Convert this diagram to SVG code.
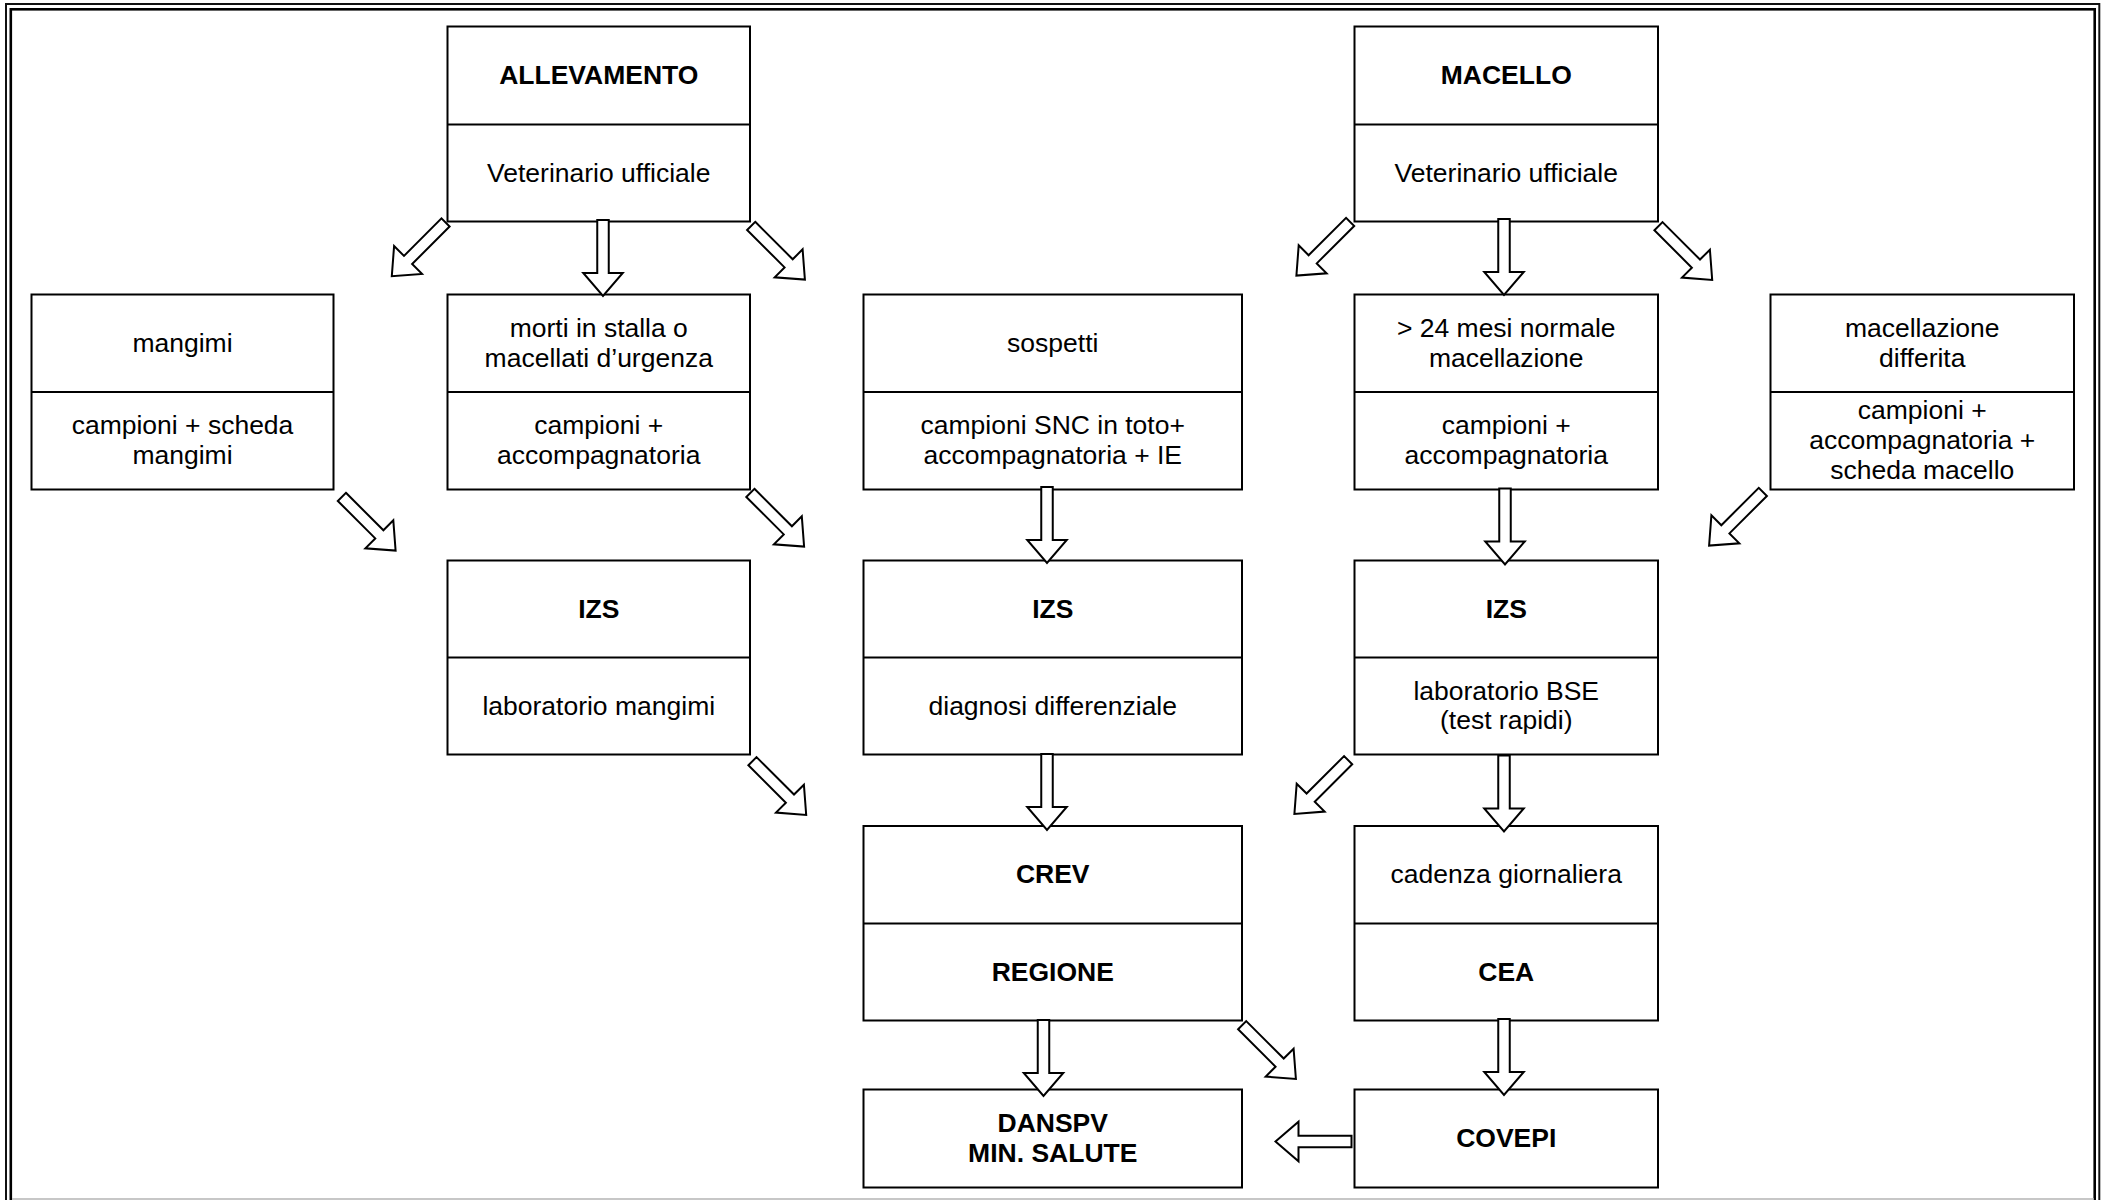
<svg xmlns="http://www.w3.org/2000/svg" xmlns:xlink="http://www.w3.org/1999/xlink" width="2105" height="1200" viewBox="0 0 2105 1200">
<style>
  .box { fill: #ffffff; stroke: #000000; stroke-width: 2; }
  .div { stroke: #000000; stroke-width: 2; }
  text { font-family: "Liberation Sans", Arial, sans-serif; font-size: 26.5px; fill: #000000; text-anchor: middle; }
  .b { font-weight: bold; }
  .arrow { fill: #ffffff; stroke: #000000; stroke-width: 2; stroke-linejoin: miter; }
</style>
<defs>
  <path id="arr" d="M-76,-5.75 H-23 V-19.75 L0,0 L-23,19.75 V5.75 H-76 Z"/>
</defs>
<rect x="0" y="0" width="2105" height="1200" fill="#ffffff"/>
<!-- page border -->
<g id="border" fill="none">
  <rect x="6" y="4" width="2093.3" height="1210" stroke="#111" stroke-width="2"/>
  <rect x="10.8" y="9.3" width="2083.9" height="1200" stroke="#000" stroke-width="2.6"/>
  <line x1="12" y1="1199" x2="2094" y2="1199" stroke="#b4b4b4" stroke-width="1.5"/>
</g>

<g id="allevamento">
  <rect class="box" x="447.5" y="26.5" width="302.5" height="195"/>
  <line class="div" x1="447.5" y1="124.5" x2="750" y2="124.5"/>
  <text class="b" x="598.75" y="84">ALLEVAMENTO</text>
  <text x="598.75" y="181.5">Veterinario ufficiale</text>
</g>
<g id="macello">
  <rect class="box" x="1354.5" y="26.5" width="303.5" height="195"/>
  <line class="div" x1="1354.5" y1="124.5" x2="1658" y2="124.5"/>
  <text class="b" x="1506.25" y="84">MACELLO</text>
  <text x="1506.25" y="181.5">Veterinario ufficiale</text>
</g>

<g id="mangimi">
  <rect class="box" x="31.5" y="294.5" width="302" height="195"/>
  <line class="div" x1="31.5" y1="392" x2="333.5" y2="392"/>
  <text x="182.5" y="351.5">mangimi</text>
  <text x="182.5" y="434.4">campioni + scheda</text>
  <text x="182.5" y="464.2">mangimi</text>
</g>
<g id="morti">
  <rect class="box" x="447.5" y="294.5" width="302.5" height="195"/>
  <line class="div" x1="447.5" y1="392" x2="750" y2="392"/>
  <text x="598.75" y="336.9">morti in stalla o</text>
  <text x="598.75" y="366.7">macellati d’urgenza</text>
  <text x="598.75" y="434.4">campioni +</text>
  <text x="598.75" y="464.2">accompagnatoria</text>
</g>
<g id="sospetti">
  <rect class="box" x="863.5" y="294.5" width="378.5" height="195"/>
  <line class="div" x1="863.5" y1="392" x2="1242" y2="392"/>
  <text x="1052.75" y="351.5">sospetti</text>
  <text x="1052.75" y="434.4">campioni SNC in toto+</text>
  <text x="1052.75" y="464.2">accompagnatoria + IE</text>
</g>
<g id="normale">
  <rect class="box" x="1354.5" y="294.5" width="303.5" height="195"/>
  <line class="div" x1="1354.5" y1="392" x2="1658" y2="392"/>
  <text x="1506.25" y="336.9">&gt; 24 mesi normale</text>
  <text x="1506.25" y="366.7">macellazione</text>
  <text x="1506.25" y="434.4">campioni +</text>
  <text x="1506.25" y="464.2">accompagnatoria</text>
</g>
<g id="differita">
  <rect class="box" x="1770.5" y="294.5" width="303.5" height="195"/>
  <line class="div" x1="1770.5" y1="392" x2="2074" y2="392"/>
  <text x="1922.25" y="336.9">macellazione</text>
  <text x="1922.25" y="366.7">differita</text>
  <text x="1922.25" y="419">campioni +</text>
  <text x="1922.25" y="449">accompagnatoria +</text>
  <text x="1922.25" y="479">scheda macello</text>
</g>

<g id="izs-mangimi">
  <rect class="box" x="447.5" y="560.5" width="302.5" height="194"/>
  <line class="div" x1="447.5" y1="657.5" x2="750" y2="657.5"/>
  <text class="b" x="598.75" y="617.5">IZS</text>
  <text x="598.75" y="714.5">laboratorio mangimi</text>
</g>
<g id="izs-diagnosi">
  <rect class="box" x="863.5" y="560.5" width="378.5" height="194"/>
  <line class="div" x1="863.5" y1="657.5" x2="1242" y2="657.5"/>
  <text class="b" x="1052.75" y="617.5">IZS</text>
  <text x="1052.75" y="714.5">diagnosi differenziale</text>
</g>
<g id="izs-bse">
  <rect class="box" x="1354.5" y="560.5" width="303.5" height="194"/>
  <line class="div" x1="1354.5" y1="657.5" x2="1658" y2="657.5"/>
  <text class="b" x="1506.25" y="617.5">IZS</text>
  <text x="1506.25" y="699.6">laboratorio BSE</text>
  <text x="1506.25" y="729.4">(test rapidi)</text>
</g>

<g id="crev">
  <rect class="box" x="863.5" y="826" width="378.5" height="194.5"/>
  <line class="div" x1="863.5" y1="923.5" x2="1242" y2="923.5"/>
  <text class="b" x="1052.75" y="883.25">CREV</text>
  <text class="b" x="1052.75" y="980.5">REGIONE</text>
</g>
<g id="cea">
  <rect class="box" x="1354.5" y="826" width="303.5" height="194.5"/>
  <line class="div" x1="1354.5" y1="923.5" x2="1658" y2="923.5"/>
  <text x="1506.25" y="883.25">cadenza giornaliera</text>
  <text class="b" x="1506.25" y="980.5">CEA</text>
</g>

<g id="danspv">
  <rect class="box" x="863.5" y="1089.5" width="378.5" height="98"/>
  <text class="b" x="1052.75" y="1132.1">DANSPV</text>
  <text class="b" x="1052.75" y="1161.9">MIN. SALUTE</text>
</g>
<g id="covepi">
  <rect class="box" x="1354.5" y="1089.5" width="303.5" height="98"/>
  <text class="b" x="1506.25" y="1147">COVEPI</text>
</g>

<g id="connectors" class="arrow">
  <!-- vertical -->
  <use xlink:href="#arr" href="#arr" transform="translate(603,296) rotate(90)"/>
  <use xlink:href="#arr" href="#arr" transform="translate(1047,563) rotate(90)"/>
  <use xlink:href="#arr" href="#arr" transform="translate(1047,830) rotate(90)"/>
  <use xlink:href="#arr" href="#arr" transform="translate(1043.5,1096) rotate(90)"/>
  <use xlink:href="#arr" href="#arr" transform="translate(1504,295) rotate(90)"/>
  <use xlink:href="#arr" href="#arr" transform="translate(1505,564.5) rotate(90)"/>
  <use xlink:href="#arr" href="#arr" transform="translate(1504,831.5) rotate(90)"/>
  <use xlink:href="#arr" href="#arr" transform="translate(1504,1095) rotate(90)"/>
  <!-- horizontal -->
  <use xlink:href="#arr" href="#arr" transform="translate(1275.5,1141.5) rotate(180)"/>
  <!-- diagonal -->
  <use xlink:href="#arr" href="#arr" transform="translate(391.8,276.2) rotate(135)"/>
  <use xlink:href="#arr" href="#arr" transform="translate(804.9,279.6) rotate(45)"/>
  <use xlink:href="#arr" href="#arr" transform="translate(395.6,550.6) rotate(45)"/>
  <use xlink:href="#arr" href="#arr" transform="translate(804.1,546.6) rotate(45)"/>
  <use xlink:href="#arr" href="#arr" transform="translate(806.2,814.9) rotate(45)"/>
  <use xlink:href="#arr" href="#arr" transform="translate(1296.4,275.6) rotate(135)"/>
  <use xlink:href="#arr" href="#arr" transform="translate(1712.2,279.9) rotate(45)"/>
  <use xlink:href="#arr" href="#arr" transform="translate(1709.1,545.6) rotate(135)"/>
  <use xlink:href="#arr" href="#arr" transform="translate(1294.4,813.9) rotate(135)"/>
  <use xlink:href="#arr" href="#arr" transform="translate(1295.9,1078.9) rotate(45)"/>
</g>
</svg>
